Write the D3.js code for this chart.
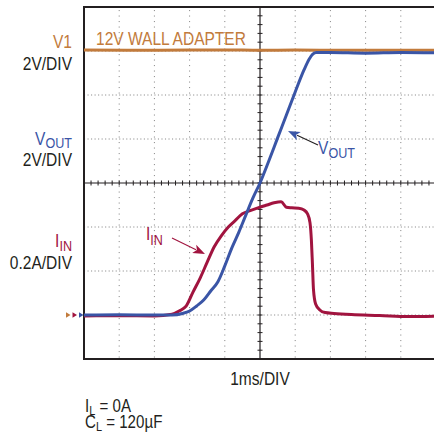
<!DOCTYPE html>
<html><head><meta charset="utf-8">
<script src="https://cdn.jsdelivr.net/npm/d3@7"></script>
<style>
html,body{margin:0;padding:0;background:#fff;}
svg{display:block;}
text{font-family:"Liberation Sans",Arial,sans-serif;}
</style></head>
<body>
<svg id="c" width="434" height="439"></svg>
<script>
// ---- data (time in ms, volts, amps) ----
const v1Time = [-5, -3, -1, 0, 1, 3, 5];
const v1Volts = [12.04, 12.03, 12.05, 12.03, 12.04, 12.03, 12.04];

const voutTime = [-5, -4, -3, -2.5, -2.2, -2.0, -1.8, -1.6, -1.4, -1.2, -1.0, -0.8, -0.6, -0.4, -0.2, 0, 0.25, 0.5, 0.75, 1.0, 1.25, 1.4, 1.5, 1.6, 2.0, 3.0, 4.0, 5.0];
const voutVolts = [0.0, 0.01, 0.0, 0.0, 0.07, 0.18, 0.41, 0.68, 1.09, 1.5, 2.23, 3.05, 3.77, 4.55, 5.32, 6.0, 7.0, 8.05, 9.09, 10.14, 11.14, 11.64, 11.86, 11.93, 11.93, 11.9, 11.93, 11.92];

const iinTime = [-5, -4, -3, -2.5, -2.3, -2.1, -1.9, -1.7, -1.5, -1.3, -1.1, -0.9, -0.7, -0.5, -0.3, 0, 0.2, 0.4, 0.6, 0.75, 0.9, 1.1, 1.25, 1.35, 1.42, 1.46, 1.49, 1.52, 1.58, 1.7, 1.85, 2.1, 2.6, 3.4, 4.2, 5.0];
const iinAmps = [-0.004, -0.003, -0.004, 0.003, 0.018, 0.04, 0.105, 0.168, 0.24, 0.31, 0.36, 0.40, 0.43, 0.46, 0.473, 0.49, 0.50, 0.51, 0.515, 0.49, 0.487, 0.485, 0.477, 0.46, 0.42, 0.34, 0.23, 0.114, 0.05, 0.023, 0.011, 0.007, 0.002, -0.002, -0.007, -0.005];

const xTicks = [-5, -4, -3, -2, -1, 0, 1, 2, 3, 4, 5];
const divTicks = [0, 1, 2, 3, 4, 5, 6, 7, 8];

// ---- layout ----
const svg = d3.select("#c");
const L = 84, R = 436, T = 7, B = 359;
const x = d3.scaleLinear().domain([-5, 5]).range([L, R]);
const yDiv = d3.scaleLinear().domain([0, 8]).range([B, T]);
const yV = d3.scaleLinear().domain([-2, 14]).range([B, T]);     // 2V/DIV
const yI = d3.scaleLinear().domain([-0.2, 1.4]).range([B, T]);  // 0.2A/DIV

const ink = "#231F20", cOr = "#C27B3C", cBl = "#3A55A6", cRd = "#A1143F";

// dotted grid
const g = svg.append("g");
xTicks.filter(t => t !== 0 && t !== -5).forEach(t => {
  g.append("line").attr("x1", x(t)).attr("x2", x(t)).attr("y1", T + 3).attr("y2", B)
    .attr("stroke", "#8a8a8a").attr("stroke-width", 1).attr("stroke-dasharray", "1.1,4.4");
});
divTicks.filter(d => d !== 4 && d !== 0 && d !== 8).forEach(d => {
  g.append("line").attr("x1", L).attr("x2", 434).attr("y1", yDiv(d)).attr("y2", yDiv(d))
    .attr("stroke", "#8a8a8a").attr("stroke-width", 1).attr("stroke-dasharray", "1.1,2.42");
});

// center cross with minor ticks
g.append("line").attr("x1", L).attr("x2", 434).attr("y1", yDiv(4)).attr("y2", yDiv(4)).attr("stroke", ink).attr("stroke-width", 1.2);
g.append("line").attr("x1", x(0)).attr("x2", x(0)).attr("y1", T).attr("y2", B).attr("stroke", ink).attr("stroke-width", 1.2);
d3.range(-5, 5.01, 0.2).forEach(t => {
  g.append("line").attr("x1", x(t)).attr("x2", x(t)).attr("y1", yDiv(4) - 2.5).attr("y2", yDiv(4) + 2.5).attr("stroke", ink).attr("stroke-width", 1);
});
d3.range(0, 8.01, 0.2).forEach(d => {
  g.append("line").attr("x1", x(0) - 2.5).attr("x2", x(0) + 2.5).attr("y1", yDiv(d)).attr("y2", yDiv(d)).attr("stroke", ink).attr("stroke-width", 1);
});

// frame
svg.append("path").attr("d", `M436,${T}H${L}V${B}H436`).attr("fill", "none").attr("stroke", ink).attr("stroke-width", 2);

// traces
const line = (ys) => d3.line().x(d => x(d[0])).y(d => ys(d[1])).curve(d3.curveMonotoneX);
const zip = (a, b) => a.map((v, i) => [v, b[i]]);
svg.append("path").datum(zip(v1Time, v1Volts)).attr("d", line(yV)).attr("fill", "none").attr("stroke", cOr).attr("stroke-width", 3);
svg.append("path").datum(zip(iinTime, iinAmps)).attr("d", line(yI)).attr("fill", "none").attr("stroke", cRd).attr("stroke-width", 3);
svg.append("path").datum(zip(voutTime, voutVolts)).attr("d", line(yV)).attr("fill", "none").attr("stroke", cBl).attr("stroke-width", 3);

// ground markers
[[cOr, 66], [cRd, 72.5], [cBl, 79]].forEach(([c, mx]) => {
  const y0 = yV(0);
  svg.append("path").attr("d", `M${mx},${y0 - 2.7}L${mx + 4.5},${y0}L${mx},${y0 + 2.7}Z`).attr("fill", c);
});

// arrows
function arrow(x1, y1, x2, y2, lineColor, headColor) {
  const ang = Math.atan2(y2 - y1, x2 - x1);
  const hl = 12, hw = 4.6;
  const bx = x2 - hl * Math.cos(ang), by = y2 - hl * Math.sin(ang);
  svg.append("line").attr("x1", x1).attr("y1", y1).attr("x2", bx + 2 * Math.cos(ang)).attr("y2", by + 2 * Math.sin(ang)).attr("stroke", lineColor).attr("stroke-width", 1.1);
  const px = -Math.sin(ang) * hw, py = Math.cos(ang) * hw;
  svg.append("path").attr("d", `M${x2},${y2}L${bx + px},${by + py}L${bx + hl * 0.25 * Math.cos(ang)},${by + hl * 0.25 * Math.sin(ang)}L${bx - px},${by - py}Z`).attr("fill", headColor);
}
arrow(318, 145, 288, 131, ink, cBl);
arrow(172, 238, 205, 254, cRd, cRd);

// text helpers (condensed via horizontal scale)
const SX = 0.84, FS = 18.5, SFS = 15;
function txt(xp, yp, color, anchor, fs) {
  return svg.append("text").attr("transform", `translate(${xp},${yp}) scale(${SX},1)`)
    .attr("fill", color).attr("text-anchor", anchor || "start").style("font-size", (fs || FS) + "px");
}
function plain(xp, yp, s, color, anchor) { txt(xp, yp, color, anchor).text(s); }
function sub(xp, yp, main, s, rest, color, anchor, dy, fs, sfs) {
  const t = txt(xp, yp, color, anchor, fs);
  t.append("tspan").text(main);
  t.append("tspan").attr("dy", dy).style("font-size", (sfs || SFS) + "px").text(s);
  if (rest) t.append("tspan").attr("dy", -dy).text(rest);
}
plain(72, 48, "V1", cOr, "end");
plain(72, 70, "2V/DIV", ink, "end");
sub(72, 145, "V", "OUT", null, cBl, "end", 3);
plain(72, 166, "2V/DIV", ink, "end");
sub(72, 247, "I", "IN", null, cRd, "end", 4);
plain(72, 269, "0.2A/DIV", ink, "end");

plain(96, 45, "12V WALL ADAPTER", cOr, "start");
sub(318, 154, "V", "OUT", null, cBl, "start", 3.5);
sub(146, 240, "I", "IN", null, cRd, "start", 4.5);

plain(260, 385, "1ms/DIV", ink, "middle");
sub(85, 412, "I", "L", " = 0A", ink, "start", 2.5, 18, 13);
sub(85, 428, "C", "L", " = 120µF", ink, "start", 2.5, 18, 13);
</script>
</body></html>
